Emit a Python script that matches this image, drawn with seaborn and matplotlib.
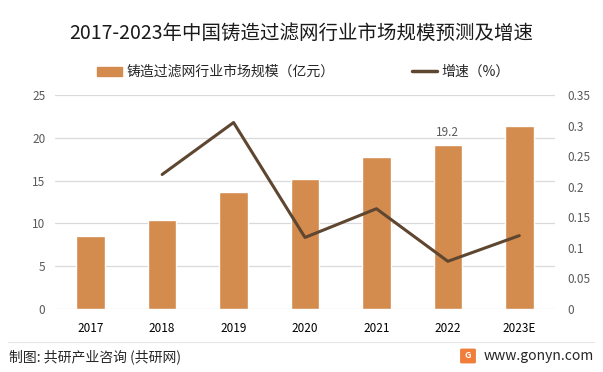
import matplotlib
matplotlib.use("Agg")
import matplotlib.pyplot as plt
import matplotlib.patches as mpatches
import numpy as np
import pandas as pd
import seaborn as sns

# 数据
years = ["2017", "2018", "2019", "2020", "2021", "2022", "2023E"]
market_size = [8.5, 10.4, 13.7, 15.2, 17.8, 19.2, 21.4]
growth = [None, 0.22, 0.305, 0.117, 0.164, 0.078, 0.12]

BAR_COLOR = "#D38B4E"
LINE_COLOR = "#5E4630"
TICK_COLOR = "#595959"
GRID_COLOR = "#D9D9D9"

sns.set_theme(style="white")
plt.rcParams["font.family"] = ["Noto Sans CJK SC", "DejaVu Sans"]
plt.rcParams["axes.unicode_minus"] = False

df = pd.DataFrame({"year": years, "size": market_size, "growth": growth})

fig = plt.figure(figsize=(6.03, 3.72), dpi=100)
ax1 = fig.add_axes([55 / 603, 1 - 309 / 372, 500 / 603, 214 / 372])

sns.barplot(data=df, x="year", y="size", ax=ax1, color=BAR_COLOR, width=0.4,
            saturation=1, zorder=2)
ax1.set_ylim(0, 25)
ax1.set_yticks(np.arange(0, 26, 5))
ax1.set_xlim(-0.5, len(years) - 0.5)
ax1.set_xlabel("")
ax1.set_ylabel("")
ax1.yaxis.grid(True, color=GRID_COLOR, linewidth=0.9, zorder=0)
ax1.set_axisbelow(True)
for s in ax1.spines.values():
    s.set_visible(False)
ax1.tick_params(axis="y", length=0, pad=7, labelsize=8.5, labelcolor=TICK_COLOR)
ax1.tick_params(axis="x", length=0, pad=9, labelsize=8.5, labelcolor="black")

# 2022 数据标签
ax1.text(5, market_size[5] + 0.7, "19.2", ha="center", va="bottom",
         fontsize=8.5, color=TICK_COLOR)

ax2 = ax1.twinx()
xs = np.arange(len(years))
g = pd.Series(growth, dtype=float)
sns.lineplot(x=xs[1:], y=g.values[1:], ax=ax2, color=LINE_COLOR, linewidth=2.2)
ax2.set_ylim(0, 0.35)
ax2.set_yticks([0, 0.05, 0.1, 0.15, 0.2, 0.25, 0.3, 0.35])
ax2.set_yticklabels(["0", "0.05", "0.1", "0.15", "0.2", "0.25", "0.3", "0.35"])
for s in ax2.spines.values():
    s.set_visible(False)
ax2.tick_params(axis="y", length=0, pad=9, labelsize=8.5, labelcolor=TICK_COLOR)
ax2.grid(False)

# 标题
fig.text(0.5, 1 - 33 / 372, "2017-2023年中国铸造过滤网行业市场规模预测及增速",
         ha="center", va="center", fontsize=14, color="#1a1a1a")

# 图例
leg_handles = [mpatches.Patch(color=BAR_COLOR, label="铸造过滤网行业市场规模（亿元）"),
               plt.Line2D([], [], color=LINE_COLOR, linewidth=2.5, label="增速（%）")]
fig.legend(handles=leg_handles, loc="center", bbox_to_anchor=(0.503, 1 - 72 / 372),
           ncol=2, frameon=False, fontsize=10, columnspacing=5.6, handlelength=1.8,
           handleheight=0.6, handletextpad=0.3, labelcolor="#262626")

# 底部
fig.add_artist(plt.Line2D([8 / 603, 594 / 603], [1 - 342 / 372] * 2,
                          color="#E6E6E6", linewidth=0.8))
fig.text(9 / 603, 1 - 357 / 372, "制图: 共研产业咨询 (共研网)", ha="left",
         va="center", fontsize=10, color="#262626")
fig.text(484 / 603, 1 - 356 / 372, "www.gonyn.com", ha="left", va="center",
         fontsize=10, color="#262626")
fig.add_artist(mpatches.FancyBboxPatch((462 / 603, 1 - 362 / 372), 12 / 603, 12 / 372,
                                       boxstyle="round,pad=0.002", color="#F07E3A",
                                       transform=fig.transFigure))
fig.text(468 / 603, 1 - 356 / 372, "G", ha="center", va="center", fontsize=6.5,
         color="white", fontweight="bold")

fig.savefig("out.png", dpi=100)
